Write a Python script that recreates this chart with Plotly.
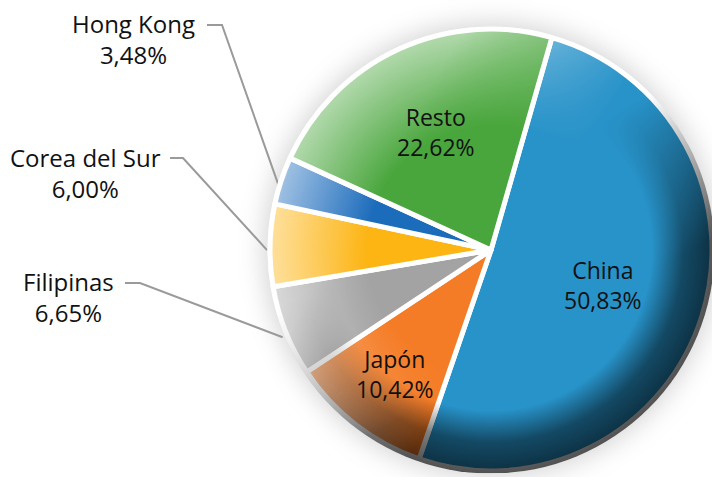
import math
import base64
import plotly.graph_objects as go

# ---------------- data ----------------
categories = ["China", "Japón", "Filipinas", "Corea del Sur", "Hong Kong", "Resto"]
values = [50.83, 10.42, 6.65, 6.00, 3.48, 22.62]
value_labels = ["50,83%", "10,42%", "6,65%", "6,00%", "3,48%", "22,62%"]

# ---------------- style ----------------
colors = ["#2893c9", "#f57c26", "#a3a3a3", "#fdb514", "#1c6cbc", "#49a63c"]
FONT = "Open Sans"
W, H = 712, 477
CX, CY, R = 491, 250, 221
ROT = 16


def px(x):
    return x / W


def py(y):
    return 1 - y / H


total = sum(values)
starts, mids = [], []
a = ROT
for v in values:
    starts.append(a)
    mids.append(a + v / total * 180)
    a += v / total * 360


def pt(angle, r):
    t = math.radians(angle)
    return CX + r * math.sin(t), CY - r * math.cos(t)


fig = go.Figure()
fig.add_trace(go.Pie(
    labels=categories, values=values, sort=False, direction="clockwise", rotation=ROT,
    marker=dict(colors=colors, line=dict(color="white", width=5)),
    textinfo="none", hoverinfo="label+percent", showlegend=False,
    domain=dict(x=[px(CX - R), px(CX + R)], y=[py(CY + R), py(CY - R)]),
))

# ---- shading overlay (above) and soft shadow (below) as SVG images ----
RO = R + 2.5
D = 2 * RO


def lin(deg, p0, p1):
    t = math.radians(deg)
    ux, uy = math.sin(t), -math.cos(t)
    return (RO + p0 * RO * ux, RO + p0 * RO * uy, RO + p1 * RO * ux, RO + p1 * RO * uy)


dx1, dy1, dx2, dy2 = lin(150, -0.25, 0.45)
lx1, ly1, lx2, ly2 = lin(300, -0.15, 0.6)

over = f"""<svg xmlns='http://www.w3.org/2000/svg' width='{D}' height='{D}' viewBox='0 0 {D} {D}'>
<defs>
<radialGradient id='d' cx='{RO}' cy='{RO}' r='{RO}' gradientUnits='userSpaceOnUse'>
<stop offset='0.72' stop-color='#000' stop-opacity='0'/>
<stop offset='0.86' stop-color='#000' stop-opacity='0.5'/>
<stop offset='1' stop-color='#000' stop-opacity='0.68'/>
</radialGradient>
<radialGradient id='l' cx='{RO}' cy='{RO}' r='{RO}' gradientUnits='userSpaceOnUse'>
<stop offset='0.55' stop-color='#fff' stop-opacity='0'/>
<stop offset='1' stop-color='#fff' stop-opacity='0.6'/>
</radialGradient>
<linearGradient id='dm' x1='{dx1}' y1='{dy1}' x2='{dx2}' y2='{dy2}' gradientUnits='userSpaceOnUse'>
<stop offset='0' stop-color='#000'/><stop offset='1' stop-color='#fff'/>
</linearGradient>
<linearGradient id='lm' x1='{lx1}' y1='{ly1}' x2='{lx2}' y2='{ly2}' gradientUnits='userSpaceOnUse'>
<stop offset='0' stop-color='#000'/><stop offset='1' stop-color='#fff'/>
</linearGradient>
<mask id='mD'><rect width='{D}' height='{D}' fill='url(#dm)'/></mask>
<mask id='mL'><rect width='{D}' height='{D}' fill='url(#lm)'/></mask>
</defs>
<circle cx='{RO}' cy='{RO}' r='{RO}' fill='url(#d)' mask='url(#mD)'/>
<circle cx='{RO}' cy='{RO}' r='{RO}' fill='url(#l)' mask='url(#mL)'/>
</svg>"""

S = 2 * R + 100
under = f"""<svg xmlns='http://www.w3.org/2000/svg' width='{S}' height='{S}' viewBox='0 0 {S} {S}'>
<defs><filter id='b' x='-50%' y='-50%' width='200%' height='200%'><feGaussianBlur stdDeviation='13'/></filter></defs>
<circle cx='{S/2}' cy='{S/2}' r='{R + 6}' fill='#000' fill-opacity='0.17' filter='url(#b)'/>
</svg>"""


def uri(svg):
    return "data:image/svg+xml;base64," + base64.b64encode(svg.encode()).decode()


images = [
    dict(source=uri(under), xref="paper", yref="paper", x=px(CX - S / 2), y=py(CY - S / 2),
         sizex=S / W, sizey=S / H, xanchor="left", yanchor="top", sizing="stretch", layer="below"),
    dict(source=uri(over), xref="paper", yref="paper", x=px(CX - RO), y=py(CY - RO),
         sizex=D / W, sizey=D / H, xanchor="left", yanchor="top", sizing="stretch", layer="above"),
]

shapes = []
annotations = []
# inside labels
inside = {"China": 0.53, "Japón": 0.71, "Resto": 0.59}
for i, c in enumerate(categories):
    if c in inside:
        x, y = pt(mids[i], R * inside[c])
        annotations.append(dict(x=px(x), y=py(y), xref="paper", yref="paper", showarrow=False,
                                text=f"{c}<br>{value_labels[i]}", align="center",
                                xanchor="center", yanchor="middle",
                                font=dict(family=FONT, size=23, color="#111")))

# outside labels with leader lines
outside = {
    "Hong Kong": dict(text=(133, 39), seg=(207, 222, 25)),
    "Corea del Sur": dict(text=(85, 173), seg=(170, 183, 158)),
    "Filipinas": dict(text=(68, 297), seg=(125, 140, 283)),
}
for i, c in enumerate(categories):
    if c in outside:
        o = outside[c]
        tx, ty = o["text"]
        annotations.append(dict(x=px(tx), y=py(ty), xref="paper", yref="paper", showarrow=False,
                                text=f"{c}<br>{value_labels[i]}", align="center",
                                xanchor="center", yanchor="middle",
                                font=dict(family=FONT, size=24, color="#111")))
        xa, xb, yl = o["seg"]
        ex, ey = pt(mids[i], R + 3)
        ey += 5
        path = f"M {px(xa)} {py(yl)} L {px(xb)} {py(yl)} L {px(ex)} {py(ey)}"
        shapes.append(dict(type="path", xref="paper", yref="paper", path=path,
                           line=dict(color="#9a9a9a", width=2), layer="below"))

fig.update_layout(
    width=W, height=H, margin=dict(l=0, r=0, t=0, b=0),
    paper_bgcolor="white", plot_bgcolor="white",
    images=images, shapes=shapes, annotations=annotations,
    font=dict(family=FONT),
)

fig.write_html("out.html", config={"displayModeBar": False},
               post_script="document.body.style.margin='0';")
